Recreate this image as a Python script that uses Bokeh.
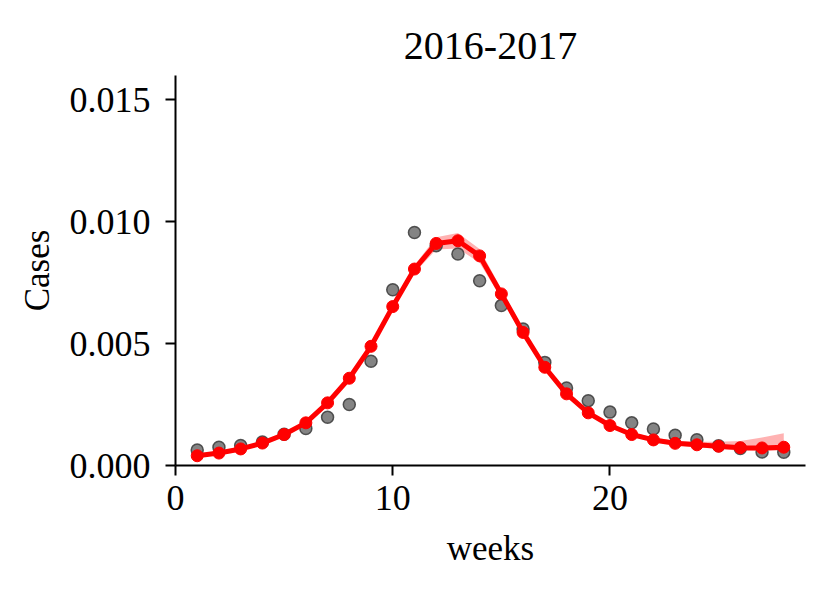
from bokeh.plotting import figure
from bokeh.models import Range1d, FixedTicker, PrintfTickFormatter, ColumnDataSource
from bokeh.embed import file_html
from bokeh.resources import INLINE

weeks = list(range(1, 29))
observed = [0.00064, 0.00075, 0.00082, 0.00096, 0.00128, 0.00152, 0.00198, 0.00250,
            0.00428, 0.00721, 0.00956, 0.00902, 0.00868, 0.00758, 0.00656, 0.00560,
            0.00423, 0.00318, 0.00266, 0.00219, 0.00175, 0.00150, 0.00124, 0.00106,
            0.00081, 0.00070, 0.00055, 0.00054]
fitted = [0.00040, 0.00051, 0.00068, 0.00092, 0.00127, 0.00175, 0.00257, 0.00358,
          0.00489, 0.00652, 0.00806, 0.00911, 0.00922, 0.00860, 0.00704, 0.00546,
          0.00403, 0.00294, 0.00216, 0.00164, 0.00127, 0.00105, 0.00091, 0.00085,
          0.00079, 0.00073, 0.00072, 0.00075]
lower = [0.00035, 0.00046, 0.00063, 0.00087, 0.00121, 0.00169, 0.00250, 0.00350,
         0.00480, 0.00640, 0.00790, 0.00886, 0.00890, 0.00832, 0.00684, 0.00531,
         0.00393, 0.00286, 0.00208, 0.00156, 0.00119, 0.00097, 0.00083, 0.00075,
         0.00068, 0.00061, 0.00060, 0.00062]
upper = [0.00045, 0.00056, 0.00073, 0.00097, 0.00133, 0.00181, 0.00264, 0.00366,
         0.00498, 0.00664, 0.00822, 0.00936, 0.00954, 0.00888, 0.00724, 0.00561,
         0.00413, 0.00302, 0.00224, 0.00172, 0.00136, 0.00115, 0.00102, 0.00097,
         0.00097, 0.00101, 0.00115, 0.00132]

title_text = "2016-2017"
x_label = "weeks"
y_label = "Cases"
x_ticks = [0, 10, 20]
y_ticks = [0.0, 0.005, 0.010, 0.015]

FONT = "Liberation Serif"

src = ColumnDataSource(dict(w=weeks, obs=observed, fit=fitted, lo=lower, hi=upper))

p = figure(width=829, height=592, output_backend="svg", toolbar_location=None,
           x_range=Range1d(0, 29), y_range=Range1d(0, 0.016),
           min_border_left=175, min_border_right=24, min_border_top=75,
           min_border_bottom=127, title=title_text)

p.outline_line_color = None
p.xgrid.visible = False
p.ygrid.visible = False
p.background_fill_color = "white"
p.border_fill_color = "white"

p.title.text_font = FONT
p.title.text_font_size = "40px"
p.title.text_font_style = "normal"
p.title.align = "center"
p.title.text_color = "black"
p.title.standoff = 33

for ax in (p.xaxis[0], p.yaxis[0]):
    ax.axis_line_width = 2
    ax.axis_line_color = "black"
    ax.major_tick_line_width = 2
    ax.major_tick_line_color = "black"
    ax.major_tick_out = 10
    ax.major_tick_in = 0
    ax.minor_tick_line_color = None
    ax.major_label_text_font = FONT
    ax.major_label_text_font_size = "36px"
    ax.major_label_text_color = "black"
    ax.axis_label_text_font = FONT
    ax.axis_label_text_font_size = "35px"
    ax.axis_label_text_font_style = "normal"
    ax.axis_label_text_color = "black"

p.xaxis[0].ticker = FixedTicker(ticks=x_ticks)
p.yaxis[0].ticker = FixedTicker(ticks=y_ticks)
p.yaxis[0].formatter = PrintfTickFormatter(format="%.3f")
p.xaxis[0].axis_label = x_label
p.yaxis[0].axis_label = y_label
p.xaxis[0].major_label_standoff = 10
p.yaxis[0].major_label_standoff = 15
p.xaxis[0].axis_label_standoff = 16
p.yaxis[0].axis_label_standoff = 10

p.varea(x="w", y1="lo", y2="hi", source=src, fill_color="#ff0000", fill_alpha=0.3)
p.scatter(x="w", y="obs", source=src, size=12, fill_color="#6e6e6e", fill_alpha=0.85,
          line_color="#3a3a3a", line_width=1.5, line_alpha=0.85)
p.line(x="w", y="fit", source=src, line_color="#ff0000", line_width=5)
p.scatter(x="w", y="fit", source=src, size=12, fill_color="#ff0000", line_color="#ff0000")

open("out.html", "w").write(file_html(p, INLINE))
